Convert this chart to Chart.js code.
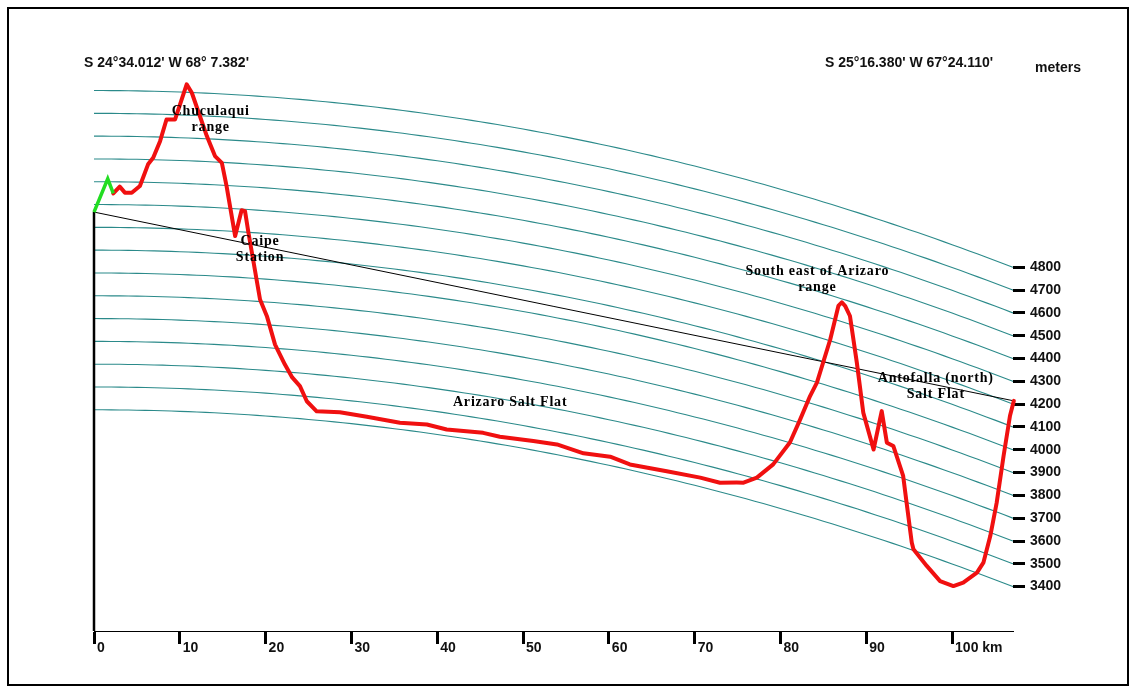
<!DOCTYPE html>
<html>
<head>
<meta charset="utf-8">
<script src="https://cdn.jsdelivr.net/npm/chart.js@4.4.0/dist/chart.umd.min.js"></script>
<style>
  html, body { margin: 0; padding: 0; background: #fff; }
  #wrap { width: 1137px; height: 693px; position: relative; }
</style>
</head>
<body>
<div id="wrap"><canvas id="profile" width="1137" height="693"></canvas></div>
<script>
// distance along the route (km) and ground elevation (m)
const profileKm = [0, 1.6, 2.25, 3.0, 3.6, 4.4, 5.35, 6.3, 6.9, 7.7, 8.45, 9.45, 10.8, 11.4, 13.15, 14.1, 14.9, 15.45,
  16.25, 16.45, 17.2, 17.6, 18.0, 19.35, 20.15, 21.1, 22.25, 23.1, 24.0, 24.8, 25.95, 28.65, 31.8, 35.65, 38.8, 41.1,
  45.35, 47.3, 51.2, 53.95, 57.05, 60.15, 62.45, 66.75, 70.65, 72.95, 74.9, 75.7, 77.25, 79.15, 81.1, 82.3, 83.45,
  84.25, 85.8, 86.75, 87.15, 87.55, 88.1, 88.9, 89.65, 90.85, 91.8, 92.4, 93.15, 94.3, 94.7, 95.3, 95.5, 97.05, 98.6,
  100.15, 101.3, 102.9, 103.65, 104.45, 105.2, 106.0, 106.75, 107.2];
const profileElev = [4267, 4413, 4349, 4379, 4353, 4353, 4383, 4479, 4508, 4582, 4678, 4679, 4835, 4799, 4612, 4526, 4498, 4397,
  4223, 4180, 4295, 4292, 4198, 3909, 3838, 3716, 3632, 3578, 3543, 3479, 3439, 3445, 3438, 3429, 3437, 3428,
  3438, 3433, 3440, 3445, 3429, 3439, 3424, 3432, 3440, 3440, 3460, 3468, 3506, 3584, 3701, 3816, 3931,
  3999, 4206, 4364, 4385, 4373, 4336, 4141, 3931, 3784, 3964, 3833, 3828, 3711, 3599, 3432, 3405, 3352, 3306,
  3305, 3336, 3402, 3456, 3584, 3741, 3957, 4144, 4216];
const greenCount = 3; // first stretch drawn in green

const contourLevels = [3400, 3500, 3600, 3700, 3800, 3900, 4000, 4100, 4200, 4300, 4400, 4500, 4600, 4700, 4800];
const kmTicks = [0, 10, 20, 30, 40, 50, 60, 70, 80, 90, 100];
const elevTicks = contourLevels;

const startLabel = "S 24°34.012' W 68° 7.382'";
const endLabel = "S 25°16.380' W 67°24.110'";
const unitLabel = "meters";

const placeNames = [
  { lines: ["Chuculaqui", "range"], km: 13.6, elev: 4721 },
  { lines: ["Caipe", "Station"], km: 19.35, elev: 4165 },
  { lines: ["Arizaro Salt Flat"], km: 48.5, elev: 3592 },
  { lines: ["South east of Arizaro", "range"], km: 84.3, elev: 4486 },
  { lines: ["Antofalla (north)", "Salt Flat"], km: 98.1, elev: 4188 }
];

// earth curvature: apparent drop in metres per km² (from the bending of the contours)
const curvature = 0.0676;
const xEnd = 107.1;
const yMin = 2430, yMax = 4890;
const dropEnd = curvature * xEnd * xEnd;

function apparent(km, elev) {
  return elev - curvature * km * km;
}

function profilePoints(from, to) {
  let pts = [];
  for (let i = from; i < to; i++) {
    pts.push({ x: profileKm[i], y: apparent(profileKm[i], profileElev[i]) });
  }
  return pts;
}

let samples = [];
for (let k = 0; k <= Math.floor(xEnd); k++) samples.push(k);
samples.push(xEnd);

const contourSets = contourLevels.map(level => ({
  data: samples.map(k => ({ x: k, y: apparent(k, level) })),
  borderColor: '#2b8a8a',
  borderWidth: 1.1,
  pointRadius: 0,
  tension: 0
}));

const last = profileKm.length - 1;

const datasets = [
  {
    data: profilePoints(0, greenCount),
    borderColor: '#22dd22', borderWidth: 3.5, pointRadius: 0, clip: false
  },
  {
    data: profilePoints(greenCount - 1, profileKm.length),
    borderColor: '#f01010', borderWidth: 4, pointRadius: 0, clip: false,
    borderJoinStyle: 'round', borderCapStyle: 'round'
  },
  {
    // line of sight between the two ends
    data: [{ x: 0, y: apparent(0, profileElev[0]) }, { x: profileKm[last], y: apparent(profileKm[last], profileElev[last]) }],
    borderColor: '#000', borderWidth: 1, pointRadius: 0
  },
  {
    data: [{ x: 0, y: yMin }, { x: 0, y: profileElev[0] }],
    borderColor: '#000', borderWidth: 2.5, pointRadius: 0, clip: false
  }
].concat(contourSets);

const tickFont = { family: '"Liberation Sans", Arial, sans-serif', size: 14, weight: 'bold' };

const decorations = {
  id: 'decorations',
  afterDraw(chart) {
    const ctx = chart.ctx;
    const x = chart.scales.x, y = chart.scales.y;
    ctx.save();

    ctx.strokeStyle = '#000';
    ctx.lineWidth = 2;
    ctx.strokeRect(8, 8, 1120, 677);

    ctx.fillStyle = '#111';
    ctx.textBaseline = 'middle';
    ctx.textAlign = 'left';
    ctx.font = 'bold 14px "Liberation Sans", Arial, sans-serif';
    ctx.fillText(startLabel, 84, 63);
    ctx.fillText(endLabel, 825, 63);
    ctx.fillText(unitLabel, 1035, 68);

    ctx.textAlign = 'center';
    ctx.fillStyle = '#000';
    ctx.font = 'bold 14px "Liberation Serif", "Times New Roman", serif';
    ctx.letterSpacing = '0.8px';
    placeNames.forEach(p => {
      const px = x.getPixelForValue(p.km);
      const py = y.getPixelForValue(apparent(p.km, p.elev));
      p.lines.forEach((line, i) => ctx.fillText(line, px, py + i * 16));
    });
    ctx.restore();
  }
};

new Chart(document.getElementById('profile'), {
  type: 'line',
  data: { datasets: datasets },
  options: {
    responsive: false,
    animation: false,
    parsing: true,
    layout: { padding: { left: 94, top: 70, right: 0, bottom: 0 } },
    plugins: { legend: { display: false }, tooltip: { enabled: false } },
    scales: {
      x: {
        type: 'linear', min: 0, max: xEnd,
        afterBuildTicks: s => { s.ticks = kmTicks.map(v => ({ value: v })); },
        afterFit: s => { s.height = 62; },
        border: { display: true, color: '#000', width: 1 },
        grid: { drawOnChartArea: false, drawTicks: true, tickLength: 13, tickWidth: 3, tickColor: '#000' },
        ticks: {
          align: 'start', labelOffset: 3, padding: -4, color: '#111', font: tickFont,
          maxRotation: 0, autoSkip: false,
          callback: v => v === 100 ? '100 km' : String(v)
        }
      },
      y: { type: 'linear', display: false, min: yMin, max: yMax },
      yR: {
        type: 'linear', position: 'right', min: yMin + dropEnd, max: yMax + dropEnd,
        afterBuildTicks: s => { s.ticks = elevTicks.map(v => ({ value: v })); },
        afterFit: s => { s.width = 124; },
        border: { display: false },
        grid: { drawOnChartArea: false, drawTicks: true, tickLength: 12, tickWidth: 3, tickColor: '#000' },
        ticks: { padding: 5, color: '#111', font: tickFont, autoSkip: false, callback: v => String(v) }
      }
    }
  },
  plugins: [decorations]
});
</script>
</body>
</html>
